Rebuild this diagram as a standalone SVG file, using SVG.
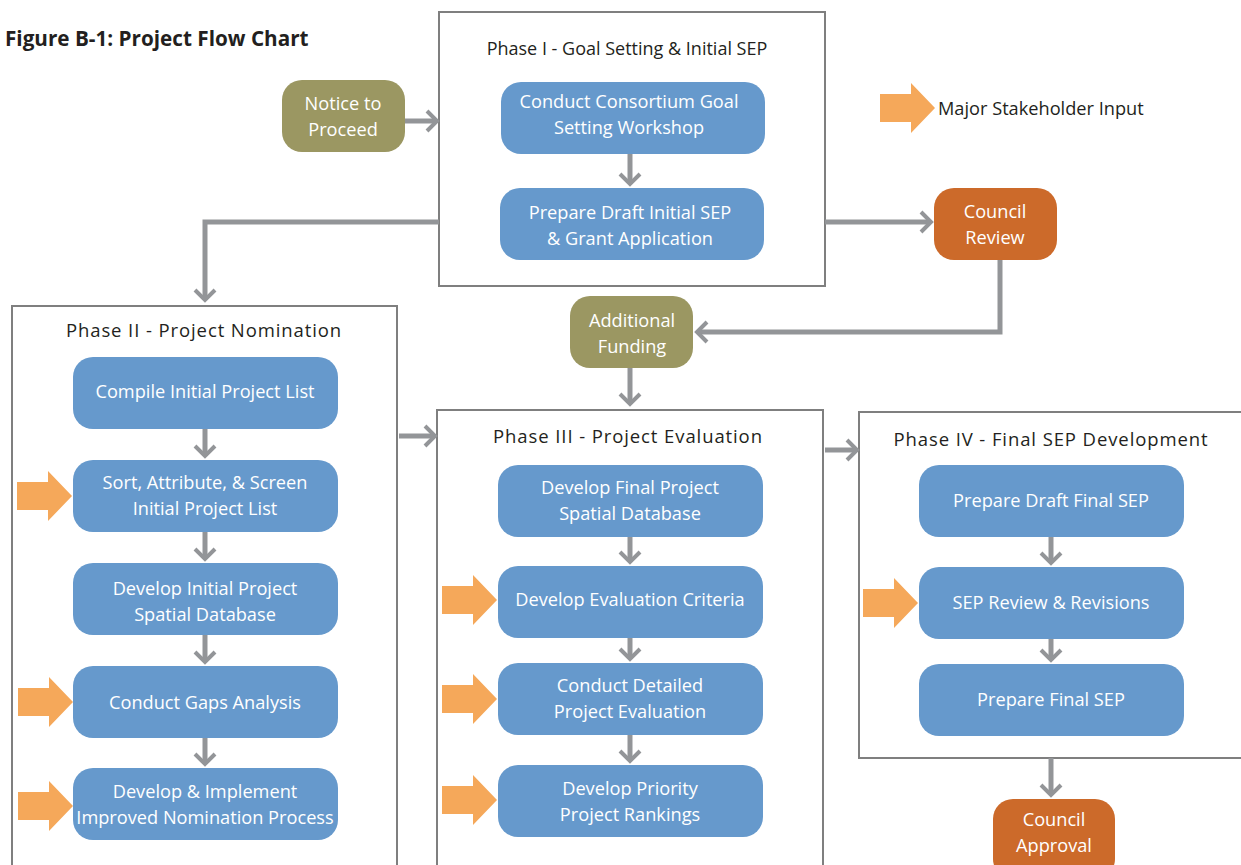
<svg xmlns="http://www.w3.org/2000/svg" xmlns:xlink="http://www.w3.org/1999/xlink" width="1241" height="865" viewBox="0 0 1241 865">
  <style>
    .bg { fill: #ffffff; }
    .phase { fill: #ffffff; stroke: #7f7f7f; stroke-width: 2; }
    .phase-title { font-family: "Open Sans", "Noto Sans", sans-serif; font-size: 18.5px; fill: #231f20; text-anchor: middle; letter-spacing: 0.9px; }
    .phase-title.tight { font-size: 18px; letter-spacing: 0; }
    .task { fill: #6699cc; }
    .olive { fill: #9b9762; }
    .council { fill: #cc6a2a; }
    .label { font-family: "Open Sans", "Noto Sans", sans-serif; font-size: 18.2px; fill: #ffffff; text-anchor: middle; }
    .conn { fill: none; stroke: #939598; stroke-width: 5; }
    .stake { fill: #f5a85a; }
    .title { font-family: "Open Sans", "Noto Sans", sans-serif; font-size: 20.7px; font-weight: bold; fill: #231f20; }
    .legend { font-family: "Open Sans", "Noto Sans", sans-serif; font-size: 18.2px; fill: #231f20; }
  </style>
  <defs>
    <marker id="chev" markerUnits="userSpaceOnUse" markerWidth="26" markerHeight="26" viewBox="-13 -13 26 26" refX="0" refY="0" orient="auto">
      <path d="M-10,-10 L0,0 L-10,10" fill="none" stroke="#939598" stroke-width="4"/>
    </marker>
    <!-- stakeholder input arrow, tip at origin -->
    <path id="stakeArrow" class="stake" d="M-55,-14 H-24 V-25 L0,0 L-24,25 V14 H-55 Z"/>
  </defs>

  <rect class="bg" x="0" y="0" width="1241" height="865"/>

  <text class="title" x="5" y="46">Figure B-1: Project Flow Chart</text>

  <!-- legend -->
  <g id="legend">
    <use xlink:href="#stakeArrow" x="935" y="108"/>
    <text class="legend" x="938" y="115">Major Stakeholder Input</text>
  </g>

  <!-- phase containers -->
  <g id="phase1">
    <rect class="phase" x="439" y="12" width="386" height="274"/>
    <text class="phase-title tight" x="627" y="55">Phase I - Goal Setting &amp; Initial SEP</text>
  </g>
  <g id="phase2">
    <rect class="phase" x="12" y="306" width="385" height="580"/>
    <text class="phase-title" x="204" y="337">Phase II - Project Nomination</text>
  </g>
  <g id="phase3">
    <rect class="phase" x="437" y="410" width="386" height="480"/>
    <text class="phase-title" x="628" y="443">Phase III - Project Evaluation</text>
  </g>
  <g id="phase4">
    <rect class="phase" x="859" y="412" width="400" height="346"/>
    <text class="phase-title" x="1051" y="446">Phase IV - Final SEP Development</text>
  </g>

  <!-- connectors -->
  <g id="connectors" class="conn">
    <path d="M405,121 H437" marker-end="url(#chev)"/>
    <path d="M630,154 V184" marker-end="url(#chev)"/>
    <path d="M439,222 H205 V300" marker-end="url(#chev)"/>
    <path d="M825,222 H931" marker-end="url(#chev)"/>
    <path d="M1000,260 V332 H697" marker-end="url(#chev)"/>
    <path d="M630,368 V404" marker-end="url(#chev)"/>
    <path d="M399,436 H435" marker-end="url(#chev)"/>
    <path d="M825,450 H857" marker-end="url(#chev)"/>
    <path d="M1051,758 V795" marker-end="url(#chev)"/>
    <path d="M205,429 V456" marker-end="url(#chev)"/>
    <path d="M205,532 V559" marker-end="url(#chev)"/>
    <path d="M205,635 V662" marker-end="url(#chev)"/>
    <path d="M205,738 V764" marker-end="url(#chev)"/>
    <path d="M630,537 V562" marker-end="url(#chev)"/>
    <path d="M630,638 V659" marker-end="url(#chev)"/>
    <path d="M630,735 V761" marker-end="url(#chev)"/>
    <path d="M1051,537 V563" marker-end="url(#chev)"/>
    <path d="M1051,639 V660" marker-end="url(#chev)"/>
  </g>

  <!-- stakeholder input markers -->
  <g id="stakeholder-inputs">
    <use xlink:href="#stakeArrow" x="72" y="496"/>
    <use xlink:href="#stakeArrow" x="73" y="702"/>
    <use xlink:href="#stakeArrow" x="73" y="806"/>
    <use xlink:href="#stakeArrow" x="497" y="600"/>
    <use xlink:href="#stakeArrow" x="497" y="699"/>
    <use xlink:href="#stakeArrow" x="497" y="800"/>
    <use xlink:href="#stakeArrow" x="918" y="603"/>
  </g>

  <!-- Phase I nodes -->
  <g id="notice">
    <rect class="olive" x="282" y="80" width="123" height="72" rx="20"/>
    <text class="label" x="343" y="110">Notice to</text>
    <text class="label" x="343" y="136">Proceed</text>
  </g>
  <g id="goal-workshop">
    <rect class="task" x="501" y="82" width="264" height="72" rx="20"/>
    <text class="label" x="629" y="108">Conduct Consortium Goal</text>
    <text class="label" x="629" y="134">Setting Workshop</text>
  </g>
  <g id="draft-initial-sep">
    <rect class="task" x="500" y="188" width="264" height="72" rx="20"/>
    <text class="label" x="630" y="219">Prepare Draft Initial SEP</text>
    <text class="label" x="630" y="245">&amp; Grant Application</text>
  </g>
  <g id="council-review">
    <rect class="council" x="934" y="188" width="123" height="72" rx="20"/>
    <text class="label" x="995" y="218">Council</text>
    <text class="label" x="995" y="244">Review</text>
  </g>
  <g id="additional-funding">
    <rect class="olive" x="570" y="296" width="123" height="72" rx="20"/>
    <text class="label" x="632" y="327">Additional</text>
    <text class="label" x="632" y="353">Funding</text>
  </g>

  <!-- Phase II nodes -->
  <g id="compile-list">
    <rect class="task" x="73" y="357" width="265" height="72" rx="20"/>
    <text class="label" x="205" y="398">Compile Initial Project List</text>
  </g>
  <g id="sort-screen">
    <rect class="task" x="73" y="460" width="265" height="72" rx="20"/>
    <text class="label" x="205" y="489">Sort, Attribute, &amp; Screen</text>
    <text class="label" x="205" y="515">Initial Project List</text>
  </g>
  <g id="initial-database">
    <rect class="task" x="73" y="563" width="265" height="72" rx="20"/>
    <text class="label" x="205" y="595">Develop Initial Project</text>
    <text class="label" x="205" y="621">Spatial Database</text>
  </g>
  <g id="gaps-analysis">
    <rect class="task" x="73" y="666" width="265" height="72" rx="20"/>
    <text class="label" x="205" y="709">Conduct Gaps Analysis</text>
  </g>
  <g id="nomination-process">
    <rect class="task" x="73" y="768" width="265" height="72" rx="20"/>
    <text class="label" x="205" y="798">Develop &amp; Implement</text>
    <text class="label" x="205" y="824">Improved Nomination Process</text>
  </g>

  <!-- Phase III nodes -->
  <g id="final-database">
    <rect class="task" x="498" y="465" width="265" height="72" rx="20"/>
    <text class="label" x="630" y="494">Develop Final Project</text>
    <text class="label" x="630" y="520">Spatial Database</text>
  </g>
  <g id="evaluation-criteria">
    <rect class="task" x="498" y="566" width="265" height="72" rx="20"/>
    <text class="label" x="630" y="606">Develop Evaluation Criteria</text>
  </g>
  <g id="detailed-evaluation">
    <rect class="task" x="498" y="663" width="265" height="72" rx="20"/>
    <text class="label" x="630" y="692">Conduct Detailed</text>
    <text class="label" x="630" y="718">Project Evaluation</text>
  </g>
  <g id="priority-rankings">
    <rect class="task" x="498" y="765" width="265" height="72" rx="20"/>
    <text class="label" x="630" y="795">Develop Priority</text>
    <text class="label" x="630" y="821">Project Rankings</text>
  </g>

  <!-- Phase IV nodes -->
  <g id="draft-final-sep">
    <rect class="task" x="919" y="465" width="265" height="72" rx="20"/>
    <text class="label" x="1051" y="507">Prepare Draft Final SEP</text>
  </g>
  <g id="sep-review">
    <rect class="task" x="919" y="567" width="265" height="72" rx="20"/>
    <text class="label" x="1051" y="609">SEP Review &amp; Revisions</text>
  </g>
  <g id="final-sep">
    <rect class="task" x="919" y="664" width="265" height="72" rx="20"/>
    <text class="label" x="1051" y="706">Prepare Final SEP</text>
  </g>

  <g id="council-approval">
    <rect class="council" x="993" y="799" width="122" height="80" rx="20"/>
    <text class="label" x="1054" y="826">Council</text>
    <text class="label" x="1054" y="852">Approval</text>
  </g>
</svg>
